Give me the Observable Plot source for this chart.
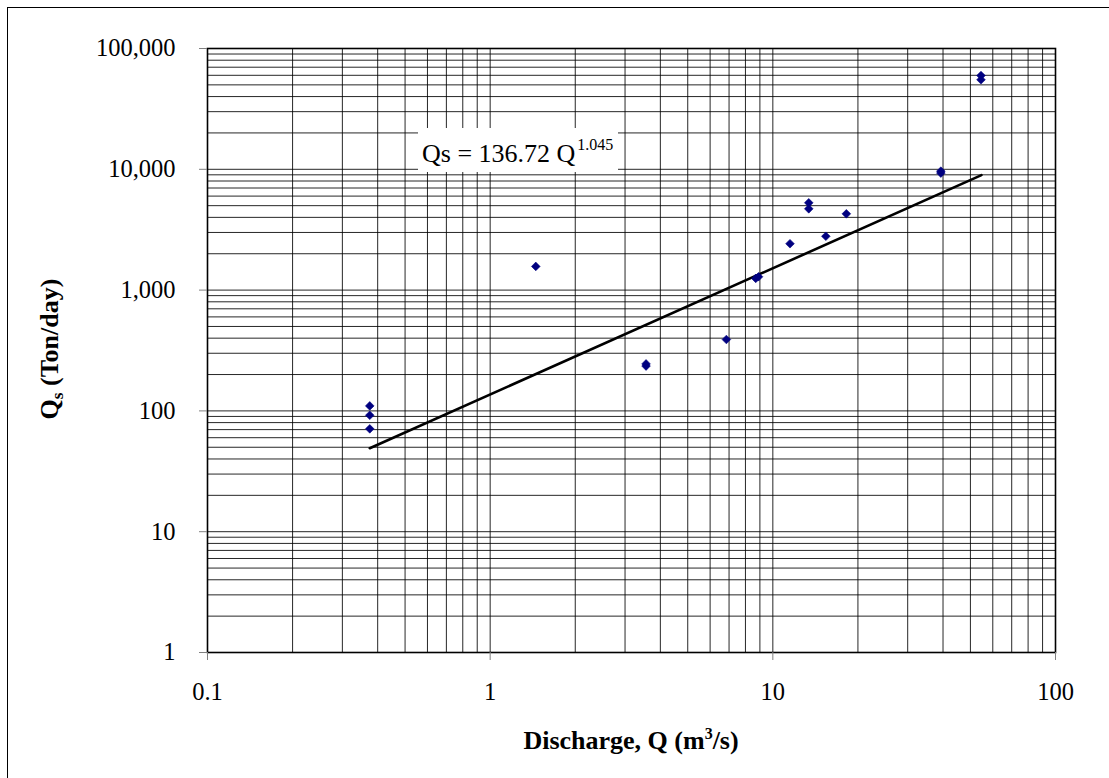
<!DOCTYPE html>
<html>
<head>
<meta charset="utf-8">
<script src="https://cdn.jsdelivr.net/npm/d3@7"></script>
<script src="https://cdn.jsdelivr.net/npm/@observablehq/plot@0.6"></script>
<style>
  html, body { margin: 0; padding: 0; background: #fff; overflow: hidden; }
  #wrap { position: relative; width: 1109px; height: 778px; overflow: hidden;
          font-family: "Liberation Serif", "Times New Roman", serif; }
  #border { position: absolute; left: 7px; top: 7px; width: 1300px; height: 1000px;
            border: 1px solid #000; pointer-events: none; }
  .ttl { position: absolute; font-weight: bold; font-size: 26px; white-space: nowrap; color: #000; line-height: 1; }
  #eq { position: absolute; left: 418px; top: 128px; width: 200px; height: 44px; background: #fff;
        font-size: 26px; line-height: 26px; white-space: nowrap; box-sizing: border-box; padding: 13px 0 0 4px; }
  #eq .sup { font-size: 16px; position: relative; top: -12px; margin-left: 2px; }
</style>
</head>
<body>
<div id="wrap"><div id="chart"></div></div>
<script>
// ---- data ----
const dischargeQ = [0.375, 0.375, 0.375, 1.45, 3.56, 3.56, 6.85, 8.7, 8.9, 11.5, 13.4, 13.4, 15.4, 18.2, 39.3, 39.3, 54.5, 54.5];
const sedimentQs = [110, 92, 71, 1570, 235, 245, 390, 1250, 1290, 2420, 5280, 4710, 2790, 4280, 9300, 9650, 59700, 55100];
const fitCoef = 136.72;
const fitExp = 1.045;
const fitRange = [0.375, 54.7];
const xTickValues = [0.1, 1, 10, 100];
const yTickValues = [1, 10, 100, 1000, 10000, 100000];
const gridMultipliers = [1, 2, 3, 4, 5, 6, 7, 8, 9];

const points = dischargeQ.map((q, i) => ({q, qs: sedimentQs[i]}));
const fitLine = fitRange.map(q => ({q, qs: fitCoef * Math.pow(q, fitExp)}));
const xGrid = xTickValues.slice(0, -1).flatMap(d => gridMultipliers.map(m => d * m)).concat([xTickValues[xTickValues.length - 1]]);
const yGrid = yTickValues.slice(0, -1).flatMap(d => gridMultipliers.map(m => d * m)).concat([yTickValues[yTickValues.length - 1]]);

const chart = Plot.plot({
  width: 1109,
  height: 778,
  marginLeft: 207,
  marginRight: 54,
  marginTop: 48,
  marginBottom: 126,
  style: {fontFamily: "'Liberation Serif', 'Times New Roman', serif", fontSize: "24px", background: "transparent", color: "#000"},
  x: {type: "log", domain: [0.1, 100]},
  y: {type: "log", domain: [1, 100000]},
  marks: [
    Plot.ruleX(xGrid, {stroke: "#000", strokeWidth: 1, strokeOpacity: 0.85}),
    Plot.ruleY(yGrid, {stroke: "#000", strokeWidth: 1, strokeOpacity: 0.85}),
    Plot.frame({stroke: "#000", strokeWidth: 1.6}),
    Plot.axisX(xTickValues, {tickSize: 8, tickPadding: 22, stroke: "#808080", fill: "#000", fontSize: 24.5, tickFormat: d => String(d), label: null}),
    Plot.axisY(yTickValues, {tickSize: 8, tickPadding: 24, stroke: "#808080", fill: "#000", fontSize: 24.5, tickFormat: d3.format(","), label: null}),
    Plot.line(fitLine, {x: "q", y: "qs", stroke: "#000", strokeWidth: 2.6}),
    Plot.dot(points, {x: "q", y: "qs", symbol: "diamond2", r: 3.9, fill: "#000080", stroke: "#000080", strokeWidth: 0.6})
  ]
});
document.getElementById("chart").appendChild(chart);

const wrap = document.getElementById("wrap");
const border = document.createElement("div");
border.id = "border";
wrap.appendChild(border);

const eq = document.createElement("div");
eq.id = "eq";
eq.innerHTML = 'Qs = 136.72 Q<span class="sup">1.045</span>';
wrap.appendChild(eq);

const xt = document.createElement("div");
xt.className = "ttl";
xt.innerHTML = 'Discharge, Q (m<span style="font-size:16px;position:relative;top:-10px">3</span>/s)';
xt.style.left = "631px";
xt.style.top = "728px";
xt.style.transform = "translateX(-50%)";
wrap.appendChild(xt);

const yt = document.createElement("div");
yt.className = "ttl";
yt.innerHTML = 'Q<span style="font-size:17px;position:relative;top:5px">s</span> (Ton/day)';
yt.style.left = "50px";
yt.style.top = "349px";
yt.style.transform = "translate(-50%,-50%) rotate(-90deg)";
wrap.appendChild(yt);
</script>
</body>
</html>
